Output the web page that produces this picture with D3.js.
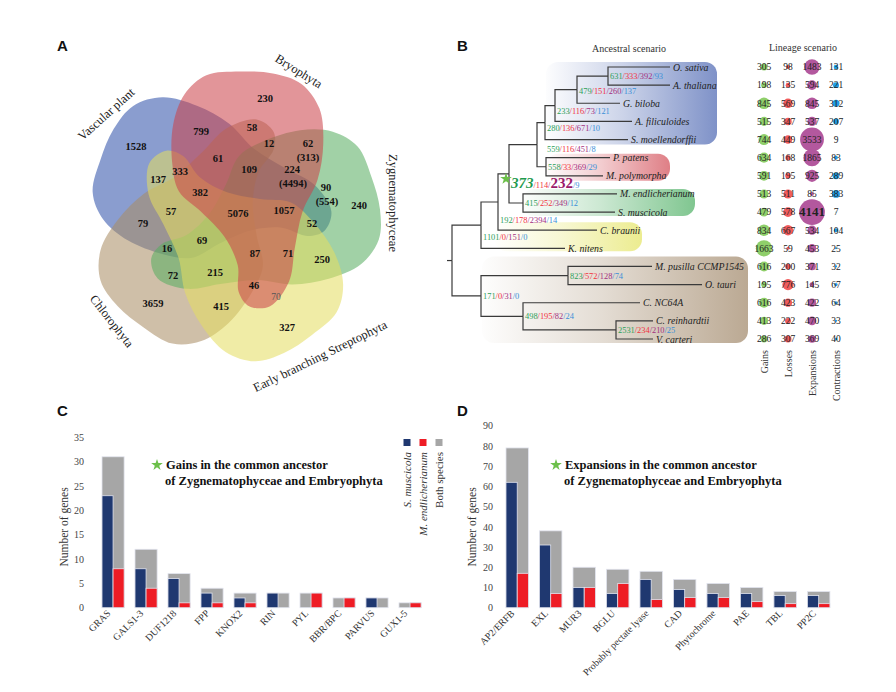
<!DOCTYPE html>
<meta charset="utf-8">
<style>
body { margin: 0; background: #fff; }
text { font-family: "Liberation Serif", "Times New Roman", serif; }
.letter { font-family: "Liberation Sans", Arial, sans-serif; font-weight: bold; font-size: 15px; fill: #111; }
.cnt { font-size: 10.5px; font-weight: bold; text-anchor: middle; fill: #111; }
.setlab { font-size: 12.5px; text-anchor: middle; fill: #222; }
.leaf { font-size: 9.8px; font-style: italic; fill: #222; }
.ev { font-size: 8.4px; }
.lin { font-size: 9.5px; text-anchor: middle; fill: #222; }
.tick text { font-size: 10px; fill: #444; }
.bartitle { font-size: 12.5px; font-weight: bold; fill: #111; }
</style>
<body>
<svg id="fig" width="896" height="692"></svg>
<script src="https://cdn.jsdelivr.net/npm/d3@7"></script>
<script>
// ---------- data ----------
// A: Venn
var vennSets = ["Vascular plant", "Bryophyta", "Zygnematophyceae", "Early branching Streptophyta", "Chlorophyta"];
var vennCounts = ["1528","230","240","327","3659","799","58","12","62","(313)","61","333","137","109","224","(4494)",
  "90","(554)","382","57","5076","1057","52","79","69","16","87","71","250","72","215","46","70","415"];

// B: tree (node, parent, branch length) and events per node
var treeEdges = [
  ["root", "", 0],
  ["Strepto", "root", 29], ["K. nitens", "Strepto", 84], ["CbNode", "Strepto", 17],
  ["C. braunii", "CbNode", 99], ["Star", "CbNode", 11],
  ["Embryo", "Star", 28], ["Tracheo", "Embryo", 8], ["N2", "Tracheo", 10], ["N3", "N2", 22],
  ["OsAt", "N3", 31], ["O. sativa", "OsAt", 62], ["A. thaliana", "OsAt", 62],
  ["G. biloba", "N3", 43], ["A. filiculoides", "N2", 77], ["S. moellendorffii", "Tracheo", 83],
  ["Bryo", "Embryo", 9], ["P. patens", "Bryo", 64], ["M. polymorpha", "Bryo", 57],
  ["Zyg", "Star", 14], ["M. endlicherianum", "Zyg", 94], ["S. muscicola", "Zyg", 92],
  ["Chloro", "root", 29], ["Mamiello", "Chloro", 87], ["M. pusilla CCMP1545", "Mamiello", 84],
  ["O. tauri", "Mamiello", 134], ["Core", "Chloro", 42], ["C. NC64A", "Core", 117],
  ["CrVc", "Core", 93], ["C. reinhardtii", "CrVc", 37], ["V. carteri", "CrVc", 37]
];
var taxa = ["O. sativa","A. thaliana","G. biloba","A. filiculoides","S. moellendorffii","P. patens","M. polymorpha",
  "M. endlicherianum","S. muscicola","C. braunii","K. nitens","M. pusilla CCMP1545","O. tauri","C. NC64A",
  "C. reinhardtii","V. carteri"];
var nodeEvents = [
  ["OsAt",631,333,392,93], ["N3",479,151,260,137], ["N2",233,116,73,121], ["Tracheo",280,136,671,10],
  ["Embryo",559,116,451,8], ["Bryo",558,33,369,29], ["Star",373,114,232,9], ["Zyg",415,252,349,12],
  ["CbNode",192,178,2394,14], ["Strepto",1101,0,151,0], ["Chloro",171,0,31,0],
  ["Mamiello",823,572,128,74], ["Core",498,195,82,24], ["CrVc",2531,234,210,25]
];
var lineageCols = ["Gains", "Losses", "Expansions", "Contractions"];
var gains = [305,198,845,515,744,634,591,513,479,834,1663,616,195,616,413,286];
var losses = [98,135,569,347,449,168,195,511,578,667,59,200,776,423,222,307];
var expansions = [1483,594,845,537,3533,1865,925,85,4141,534,453,371,145,422,470,369];
var contractions = [131,221,312,207,9,83,289,383,7,104,25,32,67,64,33,40];

// C and D: gene families
var catsC = ["GRAS","GALS1-3","DUF1218","FPP","KNOX2","RIN","PYL","BBR/BPC","PARVUS","GUX1-5"];
var muscC = [23,8,6,3,2,3,0,0,2,0];
var endlC = [8,4,1,1,1,0,3,2,0,1];
var catsD = ["AP2/ERFB","EXL","MUR3","BGLU","Probably pectate lyase","CAD","Phytochrome","PAE","TBL","PP2C"];
var muscD = [62,31,10,7,14,9,7,7,6,6];
var endlD = [17,7,10,12,4,5,5,3,2,2];

// ---------- layout ----------
var svg = d3.select("#fig");
svg.append("rect").attr("width", 896).attr("height", 692).attr("fill", "#fff");

[["A",57,51],["B",457,51],["C",57,416],["D",457,416]].forEach(function(l) {
  svg.append("text").attr("class", "letter").attr("x", l[1]).attr("y", l[2]).text(l[0]);
});

// ---------- Panel A ----------
var vennC = [233, 215];
var blob = [[-28,-147],[7,-151],[42,-149],[72,-138],[91,-112],[95,-75],[89,-37],[73,-3],[65,35],[59,70],
  [39,96],[17,96],[6,81],[5,53],[-9,23],[-33,-3],[-57,-25],[-64,-55],[-63,-95],[-51,-127]];
var vennTurn = [-70, 0, 72, 144, -144];
var vennColor = ["#2e50aa", "#cc4249", "#58ad61", "#e4de61", "#aa8c64"];
var drawOrder = [0, 4, 2, 3, 1];
var blobLine = d3.line().curve(d3.curveCatmullRomClosed.alpha(0.5));

var gA = svg.append("g");
gA.selectAll("path.set").data(drawOrder).join("path")
  .attr("class", "set")
  .attr("d", blobLine(blob))
  .attr("transform", function(i) { return "translate(" + vennC + ") rotate(" + vennTurn[i] + ") scale(0.95)"; })
  .attr("fill", function(i) { return vennColor[i]; })
  .attr("fill-opacity", 0.56);

var vennCountXY = [[136,146],[265,98],[359,205],[287,327],[153,303],[201,131],[252,127],[269,143],[308,143],[308,157],
  [218,158],[180,171],[158,179],[249,169],[292,169],[293,183],[326,187],[327,201],[200,192],[171,211],[238,213],
  [284,210],[312,223],[143,223],[202,240],[167,248],[255,253],[288,253],[322,259],[173,275],[215,272],[254,285],
  [276,297],[221,306]];
gA.selectAll("text.cnt").data(vennCounts).join("text")
  .attr("class", "cnt")
  .attr("x", function(d, i) { return vennCountXY[i][0]; })
  .attr("y", function(d, i) { return vennCountXY[i][1]; })
  .attr("dy", "0.35em")
  .style("font-weight", function(d) { return d === "70" ? "normal" : null; })
  .style("font-size", function(d) { return d === "70" ? "9.5px" : null; })
  .style("fill", function(d) { return d === "70" ? "#555" : null; })
  .text(function(d) { return d; });

var setLabelPos = [[106,114,-42], [299,71,32], [393,203,90], [320,356,-26], [112,321,52]];
gA.selectAll("text.setlab").data(vennSets).join("text")
  .attr("class", "setlab")
  .attr("transform", function(d, i) { var p = setLabelPos[i]; return "translate(" + p[0] + "," + p[1] + ") rotate(" + p[2] + ")"; })
  .attr("dy", "0.35em")
  .text(function(d) { return d; });

// ---------- Panel B ----------
var gB = svg.append("g");
gB.append("text").attr("x", 629).attr("y", 52).attr("text-anchor", "middle").attr("font-size", 10).attr("fill", "#333").text("Ancestral scenario");
gB.append("text").attr("x", 803).attr("y", 51).attr("text-anchor", "middle").attr("font-size", 10).attr("fill", "#333").text("Lineage scenario");

var yTree = d3.scalePoint().domain(taxa).range([67, 339]);
var xTree = d3.scaleLinear().domain([0, 296]).range([452, 748]);

var root = d3.stratify().id(function(d) { return d[0]; }).parentId(function(d) { return d[1] || null; })(treeEdges);
root.eachBefore(function(n) { n.len = n.parent ? n.parent.len + n.data[2] : 0; });
root.eachAfter(function(n) {
  if (!n.children) n.yy = yTree(n.id);
  else { var ys = n.children.map(function(c) { return c.yy; }); n.yy = (d3.min(ys) + d3.max(ys)) / 2; }
});
var byId = {};
root.each(function(n) { byId[n.id] = n; });

// clade boxes with fading gradients
var clades = [
  {first: "O. sativa", last: "S. moellendorffii", from: 94, to: 265, pad: [5, 5], color: "#7f92c8"},
  {first: "P. patens", last: "M. polymorpha", from: 94, to: 218, pad: [4, 5], color: "#df7f86"},
  {first: "M. endlicherianum", last: "S. muscicola", from: 70, to: 243, pad: [5, 4], color: "#80c690"},
  {first: "C. braunii", last: "K. nitens", from: 43, to: 190, pad: [8, 3], color: "#ecec90"},
  {first: "M. pusilla CCMP1545", last: "V. carteri", from: 30, to: 296, pad: [10, 4], color: "#bba993"}
];
var defs = svg.append("defs");
clades.forEach(function(c, i) {
  var gr = defs.append("linearGradient").attr("id", "cg" + i).attr("x1", 0).attr("x2", 1).attr("y1", 0).attr("y2", 0);
  gr.append("stop").attr("offset", 0).attr("stop-color", c.color).attr("stop-opacity", 0.02);
  gr.append("stop").attr("offset", 0.45).attr("stop-color", c.color).attr("stop-opacity", 0.4);
  gr.append("stop").attr("offset", 1).attr("stop-color", c.color).attr("stop-opacity", 1);
});
gB.selectAll("rect.clade").data(clades).join("rect")
  .attr("class", "clade")
  .attr("x", function(c) { return xTree(c.from); })
  .attr("y", function(c) { return yTree(c.first) - c.pad[0]; })
  .attr("width", function(c) { return xTree(c.to) - xTree(c.from); })
  .attr("height", function(c) { return yTree(c.last) - yTree(c.first) + c.pad[0] + c.pad[1]; })
  .attr("rx", 12)
  .attr("fill", function(c, i) { return "url(#cg" + i + ")"; });

// branches
gB.selectAll("path.br").data(root.descendants().filter(function(n) { return n.parent; })).join("path")
  .attr("class", "br")
  .attr("d", function(n) {
    return "M" + xTree(n.parent.len) + "," + n.parent.yy + "V" + n.yy + "H" + xTree(n.len);
  })
  .attr("fill", "none").attr("stroke", "#3a3a3a").attr("stroke-width", 1.2);
gB.append("path").attr("d", "M" + (xTree(0) - 5) + "," + root.yy + "H" + xTree(0))
  .attr("fill", "none").attr("stroke", "#3a3a3a").attr("stroke-width", 1.2);

gB.selectAll("text.leaf").data(root.leaves()).join("text")
  .attr("class", "leaf")
  .attr("x", function(n) { return xTree(n.len) + 3; })
  .attr("y", function(n) { return n.yy + 3.5; })
  .text(function(n) { return n.id; });

// event labels on nodes
var evColor = ["#2ca05a", "#f0323c", "#a3307f", "#3a8fd8"];
var labelNudge = {Embryo: [8, 4], Tracheo: [0, 5], N2: [0, 5], N3: [0, 1], Star: [0, 11], CbNode: [0, 18], Strepto: [0, 12]};
nodeEvents.forEach(function(e) {
  var n = byId[e[0]], nd = labelNudge[e[0]] || [0, 0];
  var t = gB.append("text").attr("class", "ev")
    .attr("x", xTree(n.len) + 2 + nd[0]).attr("y", n.yy + 3 + nd[1]);
  var big = e[0] === "Star";
  for (var k = 0; k < 4; k++) {
    if (k > 0) t.append("tspan").attr("fill", evColor[k]).text("/");
    var s = t.append("tspan").attr("fill", evColor[k]).text(e[k + 1]);
    if (big && k === 0) s.attr("font-size", 15).attr("font-weight", "bold").attr("font-style", "italic").attr("fill", "#1f9a4f");
    if (big && k === 2) s.attr("font-size", 15).attr("font-weight", "bold").attr("fill", "#9b1b6b");
  }
  if (big) {
    gB.append("path").attr("d", d3.symbol().type(d3.symbolStar).size(42)())
      .attr("transform", "translate(" + (xTree(n.len) - 3) + "," + (n.yy + 5) + ")")
      .attr("fill", "#6cc04a");
  }
});

// lineage scenario bubbles
var xLin = d3.scalePoint().domain(lineageCols).range([764, 836]);
var rLin = d3.scaleSqrt().domain([0, 4141]).range([0, 12.9]);
var linColor = ["#8fcf6a", "#f25c5c", "#b3589e", "#1f9ee6"];
[gains, losses, expansions, contractions].forEach(function(vals, ci) {
  var col = lineageCols[ci];
  gB.selectAll("circle.c" + ci).data(vals).join("circle")
    .attr("cx", xLin(col)).attr("cy", function(d, i) { return yTree(taxa[i]); })
    .attr("r", function(d) { return rLin(d); })
    .attr("fill", linColor[ci]);
  gB.selectAll("text.t" + ci).data(vals).join("text")
    .attr("class", "lin")
    .attr("x", xLin(col)).attr("y", function(d, i) { return yTree(taxa[i]) + 3.3; })
    .style("font-size", function(d) { return d === 4141 ? "13px" : null; })
    .style("font-weight", function(d) { return d === 4141 ? "bold" : null; })
    .attr("dy", function(d) { return d === 4141 ? 1 : 0; })
    .text(function(d) { return d; });
});
gB.selectAll("text.lcol").data(lineageCols).join("text")
  .attr("transform", function(d) { return "translate(" + (xLin(d) + 3.5) + ",350) rotate(-90)"; })
  .attr("text-anchor", "end").attr("font-size", 10).attr("fill", "#333")
  .text(function(d) { return d; });

// ---------- Panels C & D ----------
function barPanel(cats, musc, endl, opt) {
  var g = svg.append("g");
  var x = d3.scaleBand().domain(cats).range(opt.xr).paddingInner(0.33).paddingOuter(0.17);
  var y = d3.scaleLinear().domain([0, opt.ymax]).range([607.7, opt.ytop]);
  var bw = x.bandwidth(), half = bw / 2;
  var rows = cats.map(function(c, i) { return {c: c, m: musc[i], e: endl[i], both: musc[i] + endl[i]}; });

  var ax = g.append("g").attr("class", "tick").attr("transform", "translate(" + opt.axisX + ",0)")
    .call(d3.axisLeft(y).tickValues(d3.range(0, opt.ymax + 1, opt.step)).tickSize(0).tickPadding(0));
  ax.select(".domain").remove();

  g.selectAll("rect.both").data(rows).join("rect")
    .attr("x", function(d) { return x(d.c); }).attr("width", bw)
    .attr("y", function(d) { return y(d.both); }).attr("height", function(d) { return y(0) - y(d.both); })
    .attr("fill", "#a6a6a6").attr("stroke", "#e2e4ee").attr("stroke-width", 0.8);
  g.selectAll("rect.mus").data(rows.filter(function(d) { return d.m > 0; })).join("rect")
    .attr("x", function(d) { return x(d.c); }).attr("width", half)
    .attr("y", function(d) { return y(d.m); }).attr("height", function(d) { return y(0) - y(d.m); })
    .attr("fill", "#1f3870").attr("stroke", "#e2e4ee").attr("stroke-width", 0.8);
  g.selectAll("rect.end").data(rows.filter(function(d) { return d.e > 0; })).join("rect")
    .attr("x", function(d) { return x(d.c) + half; }).attr("width", half)
    .attr("y", function(d) { return y(d.e); }).attr("height", function(d) { return y(0) - y(d.e); })
    .attr("fill", "#ee1c25").attr("stroke", "#e2e4ee").attr("stroke-width", 0.8);

  g.selectAll("text.xl").data(cats).join("text")
    .attr("transform", function(d) { return "translate(" + (x(d) + half - 2) + ",614) rotate(-45)"; })
    .attr("text-anchor", "end").attr("font-size", 9.8).attr("fill", "#333")
    .text(function(d) { return d; });

  g.append("text").attr("transform", "translate(" + opt.ytitleX + ",527) rotate(-90)")
    .attr("text-anchor", "middle").attr("font-size", 11.5).attr("fill", "#333").text("Number of genes");

  g.append("path").attr("d", d3.symbol().type(d3.symbolStar).size(42)())
    .attr("transform", "translate(" + opt.titleX + ",465)").attr("fill", "#6cc04a");
  g.append("text").attr("class", "bartitle").attr("x", opt.titleX + 9).attr("y", 469).text(opt.title);
  g.append("text").attr("class", "bartitle").attr("x", opt.titleX + 8).attr("y", 485).text("of Zygnematophyceae and Embryophyta");
  return g;
}

var gC = barPanel(catsC, muscC, endlC, {xr: [96.4, 426.7], ymax: 35, ytop: 437.3, step: 5, axisX: 84,
  ytitleX: 68, titleX: 157, title: "Gains in the common ancestor"});
barPanel(catsD, muscD, endlD, {xr: [500.3, 835.6], ymax: 90, ytop: 425.7, step: 10, axisX: 493,
  ytitleX: 476, titleX: 556, title: "Expansions in the common ancestor"});

// legend for C
var legNames = ["S. muscicola", "M. endlicherianum", "Both species"];
var legColor = ["#1f3870", "#ee1c25", "#a6a6a6"];
var xLeg = d3.scalePoint().domain(legNames).range([407, 439]);
gC.selectAll("rect.leg").data(legNames).join("rect")
  .attr("x", function(d) { return xLeg(d) - 3.5; }).attr("y", 439).attr("width", 7).attr("height", 7)
  .attr("fill", function(d, i) { return legColor[i]; });
gC.selectAll("text.leg").data(legNames).join("text")
  .attr("transform", function(d) { return "translate(" + (xLeg(d) + 4) + ",452) rotate(-90)"; })
  .attr("text-anchor", "end").attr("font-size", 11).attr("fill", "#333")
  .style("font-style", function(d, i) { return i < 2 ? "italic" : "normal"; })
  .text(function(d) { return d; });
</script>
</body>
